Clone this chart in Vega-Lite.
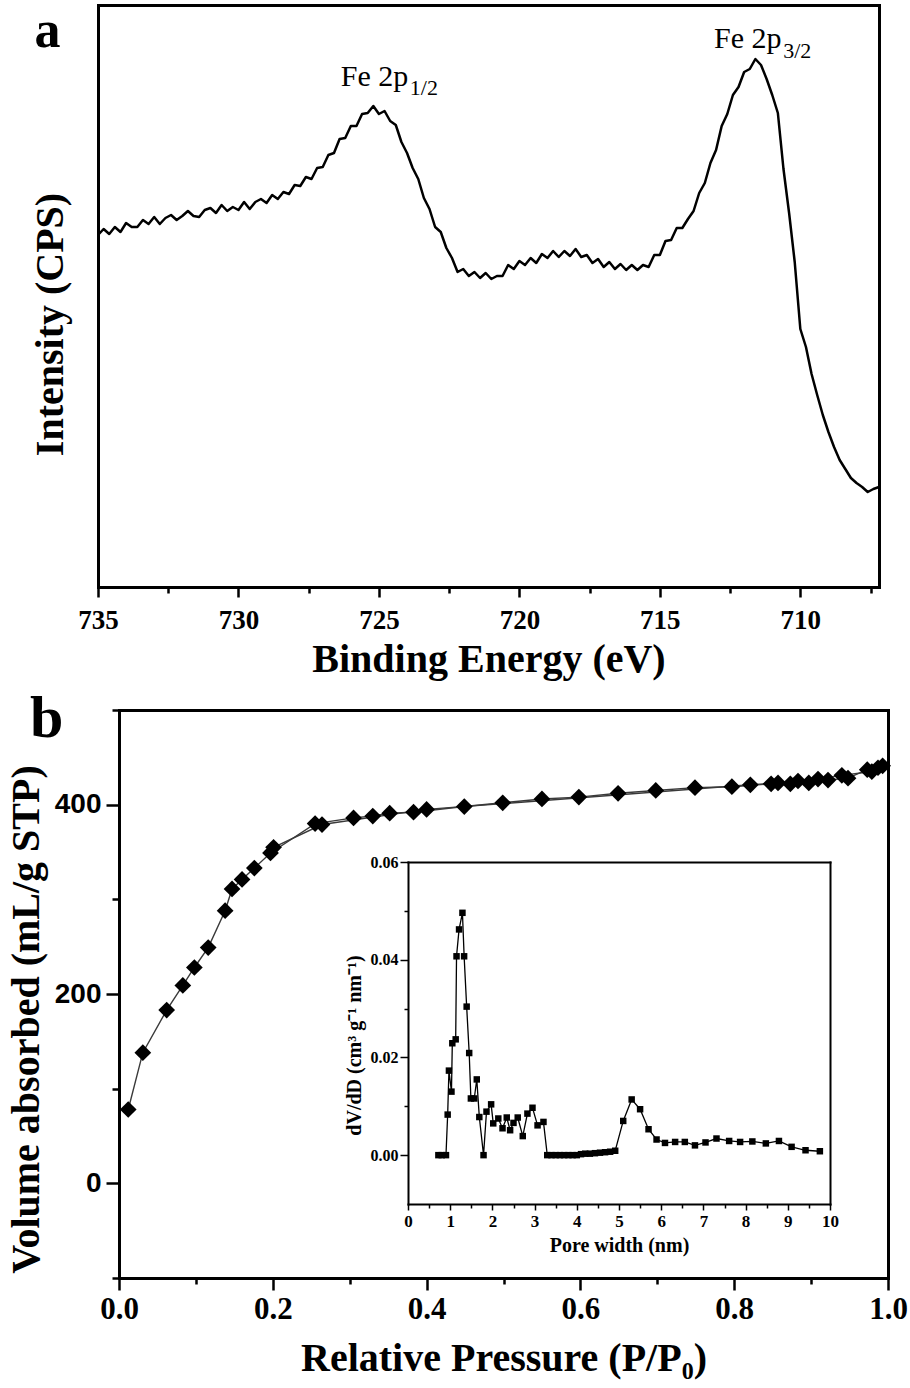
{
  "$schema": "https://vega.github.io/schema/vega-lite/v6.json",
  "width": 910,
  "height": 1388,
  "autosize": {"type": "none"},
  "padding": 0,
  "background": "white",
  "config": {
    "view": {"stroke": null},
    "axis": {
      "labelFont": "Liberation Serif", "labelFontWeight": "bold", "labelColor": "black",
      "titleFont": "Liberation Serif", "titleFontWeight": "bold", "titleColor": "black",
      "domainColor": "black", "tickColor": "black", "grid": false, "domainCap": "square",
      "labelFlush": false, "labelOverlap": false, "labelBound": false
    },
    "text": {"font": "Liberation Serif", "color": "black"}
  },
  "datasets": {
    "xps": [
      {"be":735.0,"cps":352},{"be":734.8,"cps":358},{"be":734.6,"cps":353},{"be":734.4,"cps":360},{"be":734.2,"cps":355},
      {"be":734.0,"cps":364},{"be":733.8,"cps":360},{"be":733.6,"cps":360},{"be":733.4,"cps":367},{"be":733.2,"cps":363},
      {"be":733.0,"cps":370},{"be":732.8,"cps":363},{"be":732.6,"cps":369},{"be":732.4,"cps":372},{"be":732.2,"cps":367},
      {"be":732.0,"cps":371},{"be":731.8,"cps":376},{"be":731.6,"cps":371},{"be":731.4,"cps":370},{"be":731.2,"cps":377},
      {"be":731.0,"cps":379},{"be":730.8,"cps":374},{"be":730.6,"cps":382},{"be":730.4,"cps":376},{"be":730.2,"cps":380},
      {"be":730.0,"cps":377},{"be":729.8,"cps":385},{"be":729.6,"cps":378},{"be":729.4,"cps":385},{"be":729.2,"cps":388},
      {"be":729.0,"cps":384},{"be":728.8,"cps":392},{"be":728.6,"cps":388},{"be":728.4,"cps":395},{"be":728.2,"cps":393},
      {"be":728.0,"cps":402},{"be":727.8,"cps":401},{"be":727.6,"cps":410},{"be":727.4,"cps":408},{"be":727.2,"cps":419},
      {"be":727.0,"cps":420},{"be":726.8,"cps":432},{"be":726.6,"cps":434},{"be":726.4,"cps":448},{"be":726.2,"cps":449},
      {"be":726.0,"cps":461},{"be":725.8,"cps":461},{"be":725.6,"cps":473},{"be":725.4,"cps":474},{"be":725.2,"cps":481},
      {"be":725.0,"cps":473},{"be":724.8,"cps":476},{"be":724.6,"cps":466},{"be":724.4,"cps":462},{"be":724.2,"cps":445},
      {"be":724.0,"cps":434},{"be":723.8,"cps":419},{"be":723.6,"cps":408},{"be":723.4,"cps":389},{"be":723.2,"cps":378},
      {"be":723.0,"cps":360},{"be":722.8,"cps":355},{"be":722.6,"cps":339},{"be":722.4,"cps":329},{"be":722.2,"cps":315},
      {"be":722.0,"cps":318},{"be":721.8,"cps":311},{"be":721.6,"cps":315},{"be":721.4,"cps":309},{"be":721.2,"cps":314},
      {"be":721.0,"cps":308},{"be":720.8,"cps":311},{"be":720.6,"cps":311},{"be":720.4,"cps":322},{"be":720.2,"cps":318},
      {"be":720.0,"cps":326},{"be":719.8,"cps":322},{"be":719.6,"cps":329},{"be":719.4,"cps":324},{"be":719.2,"cps":333},
      {"be":719.0,"cps":329},{"be":718.8,"cps":336},{"be":718.6,"cps":330},{"be":718.4,"cps":336},{"be":718.2,"cps":331},
      {"be":718.0,"cps":338},{"be":717.8,"cps":330},{"be":717.6,"cps":332},{"be":717.4,"cps":324},{"be":717.2,"cps":328},
      {"be":717.0,"cps":320},{"be":716.8,"cps":325},{"be":716.6,"cps":318},{"be":716.4,"cps":323},{"be":716.2,"cps":317},
      {"be":716.0,"cps":322},{"be":715.8,"cps":317},{"be":715.6,"cps":322},{"be":715.4,"cps":320},{"be":715.2,"cps":332},
      {"be":715.0,"cps":332},{"be":714.8,"cps":346},{"be":714.6,"cps":347},{"be":714.4,"cps":359},{"be":714.2,"cps":359},
      {"be":714.0,"cps":368},{"be":713.8,"cps":376},{"be":713.6,"cps":394},{"be":713.4,"cps":404},{"be":713.2,"cps":424},
      {"be":713.0,"cps":437},{"be":712.8,"cps":461},{"be":712.6,"cps":473},{"be":712.4,"cps":492},{"be":712.2,"cps":500},
      {"be":712.0,"cps":515},{"be":711.8,"cps":518},{"be":711.6,"cps":528},{"be":711.4,"cps":522},{"be":711.2,"cps":508},
      {"be":711.0,"cps":492},{"be":710.8,"cps":474},{"be":710.6,"cps":418},{"be":710.4,"cps":374},{"be":710.2,"cps":325},
      {"be":710.0,"cps":258},{"be":709.8,"cps":240},{"be":709.6,"cps":213},{"be":709.4,"cps":192},{"be":709.2,"cps":172},
      {"be":709.0,"cps":155},{"be":708.8,"cps":140},{"be":708.6,"cps":127},{"be":708.4,"cps":118},{"be":708.2,"cps":109},
      {"be":708.0,"cps":104},{"be":707.8,"cps":100},{"be":707.6,"cps":95},{"be":707.4,"cps":98},{"be":707.2,"cps":100}
    ],
    "xpsMain": [
      {"be":726.36,"cps":501,"label":"Fe 2p"},
      {"be":713.07,"cps":539,"label":"Fe 2p"}
    ],
    "xpsSub": [
      {"be":723.90,"cps":492,"label":"1/2"},
      {"be":710.61,"cps":529,"label":"3/2"}
    ],
    "panelA": [{"be":736.8,"cps":540,"label":"a"}],
    "panelB": [{"p":-0.094,"v":472,"label":"b"}],
    "iso": [
      {"p":0.012,"v":78,"branch":"ads"},{"p":0.031,"v":138,"branch":"ads"},{"p":0.062,"v":183,"branch":"ads"},
      {"p":0.083,"v":209,"branch":"ads"},{"p":0.098,"v":228,"branch":"ads"},{"p":0.116,"v":249,"branch":"ads"},
      {"p":0.138,"v":288,"branch":"ads"},{"p":0.147,"v":311,"branch":"ads"},{"p":0.160,"v":321,"branch":"ads"},
      {"p":0.176,"v":333,"branch":"ads"},{"p":0.197,"v":349,"branch":"ads"},{"p":0.255,"v":380,"branch":"ads"},
      {"p":0.305,"v":386,"branch":"ads"},{"p":0.330,"v":388,"branch":"ads"},{"p":0.352,"v":391,"branch":"ads"},
      {"p":0.383,"v":392,"branch":"ads"},{"p":0.449,"v":398,"branch":"ads"},{"p":0.499,"v":402,"branch":"ads"},
      {"p":0.550,"v":406,"branch":"ads"},{"p":0.598,"v":408,"branch":"ads"},{"p":0.649,"v":412,"branch":"ads"},
      {"p":0.698,"v":415,"branch":"ads"},{"p":0.749,"v":418,"branch":"ads"},{"p":0.797,"v":419,"branch":"ads"},
      {"p":0.848,"v":422,"branch":"ads"},{"p":0.873,"v":422,"branch":"ads"},{"p":0.897,"v":423,"branch":"ads"},
      {"p":0.922,"v":426,"branch":"ads"},{"p":0.948,"v":428,"branch":"ads"},{"p":0.973,"v":437,"branch":"ads"},
      {"p":0.993,"v":441,"branch":"ads"},
      {"p":0.987,"v":439,"branch":"des"},{"p":0.979,"v":435,"branch":"des"},{"p":0.940,"v":431,"branch":"des"},
      {"p":0.909,"v":427,"branch":"des"},{"p":0.883,"v":425,"branch":"des"},{"p":0.857,"v":423,"branch":"des"},
      {"p":0.821,"v":421,"branch":"des"},{"p":0.400,"v":395,"branch":"des"},{"p":0.264,"v":379,"branch":"des"},
      {"p":0.201,"v":355,"branch":"des"}
    ],
    "psd": [
      {"d":0.72,"dv":0},{"d":0.80,"dv":0},{"d":0.90,"dv":0},{"d":0.94,"dv":0.0083},{"d":0.97,"dv":0.0173},
      {"d":1.03,"dv":0.0130},{"d":1.05,"dv":0.0229},{"d":1.13,"dv":0.0237},{"d":1.15,"dv":0.0407},{"d":1.21,"dv":0.0462},
      {"d":1.29,"dv":0.0496},{"d":1.33,"dv":0.0407},{"d":1.39,"dv":0.0304},{"d":1.45,"dv":0.0209},{"d":1.49,"dv":0.0116},
      {"d":1.57,"dv":0.0116},{"d":1.63,"dv":0.0155},{"d":1.69,"dv":0.0078},{"d":1.79,"dv":0},{"d":1.86,"dv":0.0089},
      {"d":1.97,"dv":0.0104},{"d":2.02,"dv":0.0065},{"d":2.14,"dv":0.0075},{"d":2.24,"dv":0.0055},{"d":2.34,"dv":0.0077},
      {"d":2.42,"dv":0.0051},{"d":2.50,"dv":0.0066},{"d":2.60,"dv":0.0077},{"d":2.72,"dv":0.0039},{"d":2.83,"dv":0.0085},
      {"d":2.95,"dv":0.0097},{"d":3.07,"dv":0.0061},{"d":3.21,"dv":0.0068},{"d":3.30,"dv":0},{"d":3.40,"dv":0},
      {"d":3.50,"dv":0},{"d":3.60,"dv":0},{"d":3.70,"dv":0},{"d":3.80,"dv":0},{"d":3.90,"dv":0},
      {"d":4.00,"dv":0},{"d":4.10,"dv":0.0002},{"d":4.20,"dv":0.0003},{"d":4.31,"dv":0.0003},{"d":4.43,"dv":0.0004},
      {"d":4.55,"dv":0.0005},{"d":4.67,"dv":0.0006},{"d":4.79,"dv":0.0007},{"d":4.91,"dv":0.0009},{"d":5.10,"dv":0.0070},
      {"d":5.30,"dv":0.0114},{"d":5.50,"dv":0.0094},{"d":5.70,"dv":0.0053},{"d":5.89,"dv":0.0032},{"d":6.09,"dv":0.0025},
      {"d":6.33,"dv":0.0027},{"d":6.56,"dv":0.0027},{"d":6.80,"dv":0.0020},{"d":7.05,"dv":0.0026},{"d":7.31,"dv":0.0034},
      {"d":7.61,"dv":0.0029},{"d":7.87,"dv":0.0027},{"d":8.16,"dv":0.0028},{"d":8.48,"dv":0.0024},{"d":8.79,"dv":0.0029},
      {"d":9.09,"dv":0.0017},{"d":9.42,"dv":0.0010},{"d":9.76,"dv":0.0008}
    ]
  },
  "layer": [
    {
      "data": {"name": "xps"},
      "mark": {"type": "line", "color": "black", "strokeWidth": 2.5, "strokeJoin": "round"},
      "encoding": {
        "x": {"field": "be", "type": "quantitative",
          "scale": {"domain": [735, 707.2], "range": [98, 879], "nice": false, "zero": false},
          "axis": {"orient": "bottom", "offset": -801,
            "values": [735, 732.5, 730, 727.5, 725, 722.5, 720, 717.5, 715, 712.5, 710, 707.5],
            "labelExpr": "datum.value % 5 == 0 ? format(datum.value, 'd') : ''",
            "tickSize": {"condition": {"test": "datum.value % 5 == 0", "value": 10}, "value": 6},
            "tickWidth": 2.5, "domainWidth": 3, "labelFontSize": 27, "labelPadding": 10,
            "title": "Binding Energy (eV)", "titleFontSize": 40, "titlePadding": 6}},
        "y": {"field": "cps", "type": "quantitative",
          "scale": {"domain": [0, 582], "range": [587, 5], "nice": false, "zero": false},
          "axis": {"orient": "left", "offset": -98, "ticks": false, "labels": false, "domainWidth": 3,
            "title": "Intensity (CPS)", "titleFontSize": 40, "titlePadding": 28, "titleY": 324}}
      }
    },
    {
      "data": {"name": "xps"},
      "mark": {"type": "point", "opacity": 0},
      "encoding": {
        "x": {"field": "be", "type": "quantitative",
          "scale": {"domain": [735, 707.2], "range": [98, 879], "nice": false, "zero": false},
          "axis": {"orient": "top", "offset": -5, "ticks": false, "labels": false, "title": null, "domainWidth": 3}},
        "y": {"field": "cps", "type": "quantitative",
          "scale": {"domain": [0, 582], "range": [587, 5], "nice": false, "zero": false},
          "axis": {"orient": "right", "offset": -31, "ticks": false, "labels": false, "title": null, "domainWidth": 3}}
      }
    },
    {
      "data": {"name": "xpsMain"},
      "mark": {"type": "text", "fontSize": 30, "align": "left", "baseline": "alphabetic"},
      "encoding": {
        "x": {"field": "be", "type": "quantitative",
          "scale": {"domain": [735, 707.2], "range": [98, 879], "nice": false, "zero": false}, "axis": null},
        "y": {"field": "cps", "type": "quantitative",
          "scale": {"domain": [0, 582], "range": [587, 5], "nice": false, "zero": false}, "axis": null},
        "text": {"field": "label"}
      }
    },
    {
      "data": {"name": "xpsSub"},
      "mark": {"type": "text", "fontSize": 22, "align": "left", "baseline": "alphabetic"},
      "encoding": {
        "x": {"field": "be", "type": "quantitative",
          "scale": {"domain": [735, 707.2], "range": [98, 879], "nice": false, "zero": false}, "axis": null},
        "y": {"field": "cps", "type": "quantitative",
          "scale": {"domain": [0, 582], "range": [587, 5], "nice": false, "zero": false}, "axis": null},
        "text": {"field": "label"}
      }
    },
    {
      "data": {"name": "panelA"},
      "mark": {"type": "text", "fontSize": 52, "fontWeight": "bold", "align": "center", "baseline": "alphabetic"},
      "encoding": {
        "x": {"field": "be", "type": "quantitative",
          "scale": {"domain": [735, 707.2], "range": [98, 879], "nice": false, "zero": false}, "axis": null},
        "y": {"field": "cps", "type": "quantitative",
          "scale": {"domain": [0, 582], "range": [587, 5], "nice": false, "zero": false}, "axis": null},
        "text": {"field": "label"}
      }
    },
    {
      "data": {"name": "iso"},
      "mark": {"type": "line", "color": "#3a3a3a", "strokeWidth": 1.4},
      "encoding": {
        "x": {"field": "p", "type": "quantitative",
          "scale": {"domain": [0, 1], "range": [119, 888], "nice": false, "zero": false},
          "axis": {"orient": "bottom", "offset": -110,
            "values": [0, 0.1, 0.2, 0.3, 0.4, 0.5, 0.6, 0.7, 0.8, 0.9, 1],
            "labelExpr": "round(datum.value * 10) % 2 == 0 ? format(datum.value, '.1f') : ''",
            "tickSize": {"condition": {"test": "round(datum.value * 10) % 2 == 0", "value": 12}, "value": 6},
            "tickWidth": 2.5, "domainWidth": 3, "labelFontSize": 31, "labelPadding": 4,
            "title": "Relative Pressure (P/P₀)", "titleFontSize": 40, "titlePadding": 14}},
        "y": {"field": "v", "type": "quantitative",
          "scale": {"domain": [-100, 500], "range": [1278, 710], "nice": false, "zero": false},
          "axis": {"orient": "left", "offset": -119,
            "values": [-100, 0, 100, 200, 300, 400, 500],
            "labelExpr": "datum.value % 200 == 0 ? datum.label : ''",
            "tickSize": {"condition": {"test": "datum.value % 200 == 0", "value": 13}, "value": 7},
            "tickWidth": 2.5, "domainWidth": 3, "labelFont": "Liberation Sans", "labelFontSize": 28, "labelPadding": 5,
            "title": "Volume absorbed (mL/g STP)", "titleFontSize": 40, "titlePadding": 8, "titleY": 1019}},
        "detail": {"field": "branch", "type": "nominal"}
      }
    },
    {
      "data": {"name": "iso"},
      "mark": {"type": "point", "shape": "diamond", "filled": true, "color": "black", "size": 280, "opacity": 1},
      "encoding": {
        "x": {"field": "p", "type": "quantitative",
          "scale": {"domain": [0, 1], "range": [119, 888], "nice": false, "zero": false},
          "axis": {"orient": "top", "offset": -710, "ticks": false, "labels": false, "title": null, "domainWidth": 3}},
        "y": {"field": "v", "type": "quantitative",
          "scale": {"domain": [-100, 500], "range": [1278, 710], "nice": false, "zero": false},
          "axis": {"orient": "right", "offset": -22, "ticks": false, "labels": false, "title": null, "domainWidth": 3}}
      }
    },
    {
      "data": {"name": "panelB"},
      "mark": {"type": "text", "fontSize": 60, "fontWeight": "bold", "align": "center", "baseline": "alphabetic"},
      "encoding": {
        "x": {"field": "p", "type": "quantitative",
          "scale": {"domain": [0, 1], "range": [119, 888], "nice": false, "zero": false}, "axis": null},
        "y": {"field": "v", "type": "quantitative",
          "scale": {"domain": [-100, 500], "range": [1278, 710], "nice": false, "zero": false}, "axis": null},
        "text": {"field": "label"}
      }
    },
    {
      "data": {"name": "psd"},
      "mark": {"type": "line", "color": "black", "strokeWidth": 1.3},
      "encoding": {
        "x": {"field": "d", "type": "quantitative",
          "scale": {"domain": [0, 10], "range": [408, 830], "nice": false, "zero": false},
          "axis": {"orient": "bottom", "offset": -184,
            "values": [0, 0.5, 1, 1.5, 2, 2.5, 3, 3.5, 4, 4.5, 5, 5.5, 6, 6.5, 7, 7.5, 8, 8.5, 9, 9.5, 10],
            "labelExpr": "datum.value % 1 == 0 ? format(datum.value, 'd') : ''",
            "tickSize": {"condition": {"test": "datum.value % 1 == 0", "value": 6}, "value": 4},
            "tickWidth": 1.5, "domainWidth": 2, "labelFontSize": 17, "labelPadding": 3,
            "title": "Pore width (nm)", "titleFontSize": 20, "titlePadding": 6}},
        "y": {"field": "dv", "type": "quantitative",
          "scale": {"domain": [-0.01, 0.06], "range": [1204, 862], "nice": false, "zero": false},
          "axis": {"orient": "left", "offset": -408,
            "values": [0, 0.01, 0.02, 0.03, 0.04, 0.05, 0.06],
            "labelExpr": "round(datum.value * 100) % 2 == 0 ? format(datum.value, '.2f') : ''",
            "tickSize": {"condition": {"test": "round(datum.value * 100) % 2 == 0", "value": 8}, "value": 4},
            "tickWidth": 1.5, "domainWidth": 2, "labelFontSize": 16, "labelPadding": 2,
            "title": "dV/dD (cm³ g⁻¹ nm⁻¹)", "titleFontSize": 20, "titlePadding": 6, "titleY": 1045}}
      }
    },
    {
      "data": {"name": "psd"},
      "mark": {"type": "point", "shape": "square", "filled": true, "color": "black", "size": 42, "opacity": 1},
      "encoding": {
        "x": {"field": "d", "type": "quantitative",
          "scale": {"domain": [0, 10], "range": [408, 830], "nice": false, "zero": false},
          "axis": {"orient": "top", "offset": -862, "ticks": false, "labels": false, "title": null, "domainWidth": 2}},
        "y": {"field": "dv", "type": "quantitative",
          "scale": {"domain": [-0.01, 0.06], "range": [1204, 862], "nice": false, "zero": false},
          "axis": {"orient": "right", "offset": -80, "ticks": false, "labels": false, "title": null, "domainWidth": 2}}
      }
    }
  ],
  "resolve": {"scale": {"x": "independent", "y": "independent"}}
}
